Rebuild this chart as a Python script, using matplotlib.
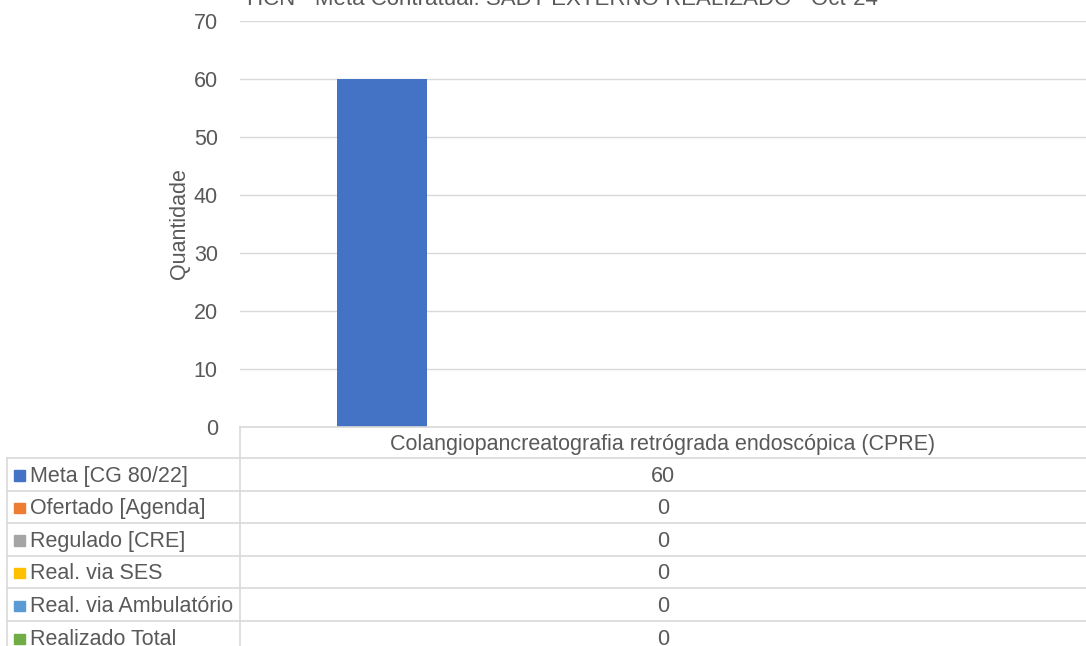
import matplotlib.pyplot as plt
import numpy as np

plt.rcParams['font.family'] = ['Liberation Sans', 'DejaVu Sans']

titulo = "HCN - Meta Contratual: SADT EXTERNO REALIZADO - Oct-24"
categoria = "Colangiopancreatografia retrógrada endoscópica (CPRE)"
series = ["Meta [CG 80/22]", "Ofertado [Agenda]", "Regulado [CRE]",
          "Real. via SES", "Real. via Ambulatório", "Realizado Total"]
valores = [60, 0, 0, 0, 0, 0]
cores = ["#4472C4", "#ED7D31", "#A5A5A5", "#FFC000", "#5B9BD5", "#70AD47"]

W, H = 1086, 646
txt = "#595959"
grade = "#D9D9D9"
fs = 15.5

fig = plt.figure(figsize=(W / 100, H / 100), dpi=100)
ax = fig.add_axes([240 / W, 1 - 427 / H, 1 - 240 / W, (427 - 21) / H])

largura = 0.106
passo = 0.133
xs = 0.5 + (np.arange(len(series)) - 2.5) * passo
for x, v, c in zip(xs, valores, cores):
    ax.bar(x, v, width=largura, color=c)

ax.set_xlim(0, 1)
ax.set_ylim(0, 70)
ax.set_yticks(range(0, 71, 10))
ax.set_xticks([])
ax.yaxis.grid(True, color=grade, linewidth=1)
ax.set_axisbelow(True)
for s in ax.spines.values():
    s.set_visible(False)
ax.tick_params(axis='y', length=0, labelsize=fs, labelcolor=txt, pad=16)
ax.set_ylabel("Quantidade", fontsize=fs, color=txt)
ax.yaxis.set_label_coords(-50 / 846, 0.5)

fig.text(562 / W, 1 - 5 / H, titulo, ha='center', va='baseline', fontsize=16, color=txt)

# tabela de dados abaixo do gráfico
tab = fig.add_axes([0, 0, 1, 1])
tab.set_xlim(0, W)
tab.set_ylim(H, 0)
tab.axis('off')
tab.patch.set_alpha(0)

linhas = [427, 458, 490.5, 523, 555.7, 588, 621, 654]
tab.plot([240, W], [427, 427], color=grade, lw=1.2)
tab.plot([240, 240], [427, H], color=grade, lw=1.2)
tab.plot([7, 7], [458, H], color=grade, lw=1.2)
for y in linhas[1:-1]:
    tab.plot([7, W], [y, y], color=grade, lw=1.2)

cx = (240 + W) / 2
tab.text(cx, (427 + 458) / 2 + 2, categoria, ha='center', va='center', fontsize=fs, color=txt)
for i, (nome, v, c) in enumerate(zip(series, valores, cores)):
    yc = (linhas[i + 1] + linhas[i + 2]) / 2 + 2
    tab.add_patch(plt.Rectangle((14, yc - 6), 10.5, 10.5, color=c))
    tab.text(30, yc, nome, ha='left', va='center', fontsize=fs, color=txt)
    tab.text(cx, yc, str(v), ha='center', va='center', fontsize=fs, color=txt)

fig.savefig("out.png", dpi=100)
